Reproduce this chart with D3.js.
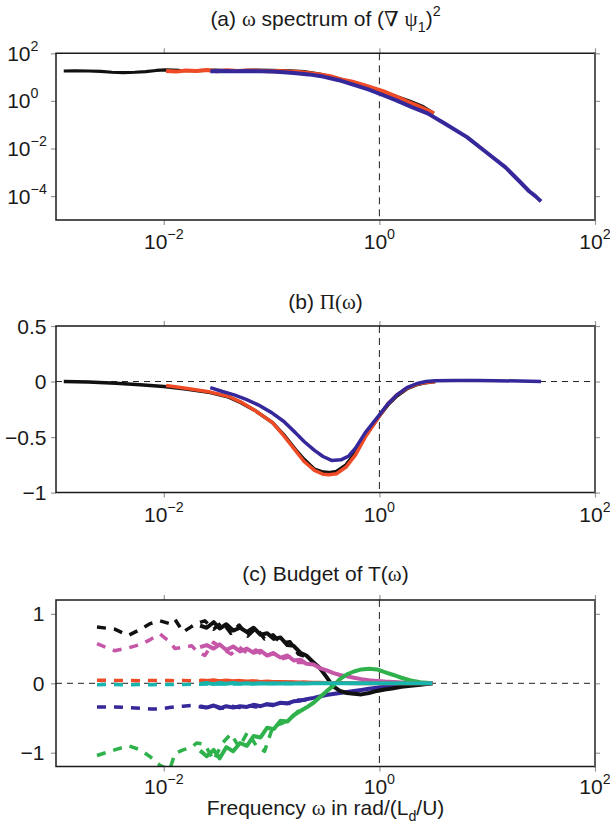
<!DOCTYPE html>
<html>
<head>
<meta charset="utf-8">
<script src="https://cdn.jsdelivr.net/npm/d3@7"></script>
<style>
  body { margin: 0; background: #fff; }
</style>
</head>
<body>
<div id="chart"></div>
<script>
// ---- data: panel (a), omega spectrum, log-log ----
var aBlackX = [0.00118, 0.0015, 0.002, 0.0026, 0.0033, 0.0042, 0.0054, 0.0068, 0.0085, 0.0105, 0.014, 0.02, 0.03, 0.045, 0.07, 0.1, 0.15, 0.2, 0.28, 0.42, 0.6, 1.0, 1.4, 1.9, 2.5, 3.2];
var aBlackY = [18, 18.5, 18, 17.5, 16, 15.5, 16, 17, 19, 20, 19, 18.5, 19.5, 18.5, 19.5, 19, 18.5, 17, 13.5, 8.7, 5.4, 2.6, 1.6, 1.0, 0.6, 0.3];
var aRedX = [0.0105, 0.013, 0.016, 0.02, 0.025, 0.031, 0.039, 0.048, 0.06, 0.075, 0.093, 0.115, 0.145, 0.18, 0.22, 0.28, 0.35, 0.44, 0.55, 0.7, 0.87, 1.1, 1.4, 1.8, 2.3, 3.2];
var aRedY = [18, 17, 19, 18, 20, 17.5, 19.5, 18, 19, 18.5, 17.5, 18, 17, 16.5, 15, 13, 11, 8, 6.6, 4.8, 3.5, 2.5, 1.6, 0.95, 0.6, 0.3];
var aBlueX = [0.027, 0.035, 0.045, 0.06, 0.08, 0.1, 0.13, 0.17, 0.22, 0.3, 0.42, 0.6, 0.8, 1.0, 1.4, 2.0, 2.8, 4, 6.5, 10, 14.8, 20, 24.5, 28, 31.6];
var aBlueY = [17.8, 18, 17.6, 18, 17.5, 17.2, 16, 14.5, 13, 10.5, 7.4, 4.5, 3, 2.0, 1.1, 0.55, 0.3, 0.115, 0.03, 0.0065, 0.0016, 0.00041, 0.00016, 0.0001, 0.00006];

// ---- data: panel (b), Pi(omega) ----
var bBlackX = [0.00118, 0.002, 0.0036, 0.006, 0.01, 0.016, 0.027, 0.04, 0.052, 0.07, 0.102, 0.13, 0.166, 0.2, 0.25, 0.3, 0.34, 0.4, 0.49, 0.6, 0.74, 1.0, 1.2, 1.45, 1.8, 2.2, 2.7, 3.3];
var bBlackY = [0, -0.005, -0.015, -0.028, -0.045, -0.068, -0.10, -0.14, -0.19, -0.26, -0.37, -0.48, -0.61, -0.70, -0.79, -0.815, -0.82, -0.81, -0.75, -0.64, -0.49, -0.31, -0.21, -0.13, -0.065, -0.03, -0.01, 0.0];
var bRedX = [0.0105, 0.016, 0.027, 0.04, 0.052, 0.07, 0.102, 0.13, 0.166, 0.2, 0.25, 0.3, 0.34, 0.4, 0.49, 0.6, 0.74, 1.0, 1.2, 1.45, 1.8, 2.2, 2.7, 3.3];
var bRedY = [-0.035, -0.06, -0.095, -0.135, -0.185, -0.26, -0.37, -0.49, -0.62, -0.72, -0.80, -0.835, -0.84, -0.83, -0.77, -0.66, -0.50, -0.31, -0.20, -0.12, -0.06, -0.025, -0.008, 0.0];
var bBlueX = [0.027, 0.035, 0.045, 0.058, 0.075, 0.1, 0.13, 0.166, 0.2, 0.25, 0.3, 0.36, 0.44, 0.52, 0.6, 0.74, 1.0, 1.2, 1.45, 1.8, 2.2, 2.7, 3.3, 5, 8, 12, 20, 31.6];
var bBlueY = [-0.055, -0.09, -0.12, -0.16, -0.21, -0.28, -0.36, -0.46, -0.54, -0.62, -0.675, -0.71, -0.705, -0.67, -0.60, -0.46, -0.30, -0.20, -0.12, -0.055, -0.02, 0.0, 0.008, 0.01, 0.01, 0.008, 0.004, 0.0];

// ---- data: panel (c), budget of T(omega) ----
var cDashX = [0.0024, 0.0035, 0.0047, 0.0061, 0.0075, 0.0092, 0.0113, 0.0127, 0.0151, 0.0182, 0.0202, 0.024, 0.029, 0.035, 0.042, 0.05, 0.06, 0.072, 0.086, 0.103, 0.123, 0.148, 0.177, 0.21];
var cBlackDash   = [0.81, 0.78, 0.69, 0.78, 0.86, 0.90, 0.86, 0.92, 0.74, 0.82, 0.86, 0.90, 0.78, 0.88, 0.72, 0.84, 0.68, 0.80, 0.64, 0.70, 0.58, 0.60, 0.42, 0.38];
var cMagentaDash = [0.57, 0.47, 0.51, 0.56, 0.63, 0.71, 0.60, 0.50, 0.52, 0.54, 0.46, 0.40, 0.59, 0.50, 0.42, 0.52, 0.43, 0.48, 0.38, 0.44, 0.35, 0.38, 0.30, 0.30];
var cRedDash     = [0.045, 0.04, 0.042, 0.038, 0.04, 0.043, 0.04, 0.038, 0.04, 0.036, 0.038, 0.035, 0.036, 0.03, 0.032, 0.028, 0.03, 0.025, 0.025, 0.02, 0.02, 0.016, 0.014, 0.012];
var cCyanDash    = [-0.02, -0.018, -0.02, -0.017, -0.02, -0.016, -0.018, -0.015, -0.016, -0.012, -0.014, -0.01, -0.012, -0.008, -0.01, -0.006, -0.008, -0.004, -0.005, -0.003, -0.003, -0.002, -0.001, 0];
var cBlueDash    = [-0.34, -0.34, -0.35, -0.36, -0.37, -0.37, -0.35, -0.34, -0.33, -0.32, -0.33, -0.35, -0.32, -0.36, -0.33, -0.35, -0.32, -0.34, -0.30, -0.32, -0.28, -0.29, -0.24, -0.24];
var cGreenDash   = [-1.04, -0.96, -0.90, -0.96, -1.06, -1.18, -1.25, -1.01, -0.96, -0.92, -0.86, -0.88, -1.11, -0.86, -0.73, -0.92, -0.70, -0.90, -0.98, -0.62, -0.58, -0.52, -0.40, -0.36];

var cSolidX = [0.0217, 0.025, 0.029, 0.033, 0.038, 0.044, 0.051, 0.059, 0.068, 0.079, 0.091, 0.105, 0.121, 0.14, 0.16, 0.185, 0.21, 0.245, 0.28, 0.32, 0.37, 0.43, 0.5, 0.58, 0.68, 0.8, 0.95, 1.12, 1.35, 1.6, 1.95, 2.4, 3.1];
var cBlackSolid   = [0.83, 0.80, 0.88, 0.79, 0.85, 0.76, 0.80, 0.74, 0.80, 0.70, 0.72, 0.64, 0.66, 0.55, 0.54, 0.44, 0.40, 0.30, 0.22, 0.10, -0.04, -0.11, -0.14, -0.15, -0.16, -0.14, -0.11, -0.09, -0.07, -0.05, -0.035, -0.02, 0];
var cMagentaSolid = [0.52, 0.55, 0.50, 0.56, 0.48, 0.53, 0.46, 0.50, 0.44, 0.47, 0.40, 0.43, 0.37, 0.40, 0.33, 0.34, 0.28, 0.27, 0.22, 0.19, 0.15, 0.12, 0.10, 0.08, 0.06, 0.045, 0.035, 0.025, 0.018, 0.012, 0.007, 0.003, 0];
var cGreenSolid   = [-0.97, -1.05, -0.96, -1.08, -0.92, -0.98, -0.86, -0.90, -0.76, -0.78, -0.64, -0.66, -0.54, -0.55, -0.46, -0.40, -0.35, -0.28, -0.20, -0.12, -0.04, 0.06, 0.13, 0.17, 0.20, 0.21, 0.20, 0.16, 0.12, 0.08, 0.04, 0.015, 0];
var cBlueSolid    = [-0.33, -0.35, -0.32, -0.36, -0.33, -0.35, -0.33, -0.34, -0.31, -0.33, -0.30, -0.31, -0.28, -0.29, -0.26, -0.25, -0.23, -0.21, -0.19, -0.17, -0.155, -0.14, -0.125, -0.11, -0.095, -0.08, -0.065, -0.05, -0.04, -0.03, -0.02, -0.01, 0];
var cRedSolid     = [0.04, 0.035, 0.045, 0.03, 0.04, 0.03, 0.035, 0.025, 0.03, 0.02, 0.025, 0.02, 0.02, 0.015, 0.015, 0.012, 0.01, 0.008, 0.007, 0.006, 0.005, 0.004, 0.003, 0.002, 0.002, 0.001, 0.001, 0, 0, 0, 0, 0, 0];
var cCyanSolid    = [-0.01, 0.005, -0.012, 0.004, -0.008, 0.003, -0.006, 0.002, -0.005, 0.002, -0.004, 0.001, -0.003, 0.001, -0.002, 0, -0.002, 0, -0.001, 0, 0, 0, 0, 0, 0, 0, 0, 0, 0, 0, 0, 0, 0];

// ---- ticks ----
var xTicks = [1e-2, 1e0, 1e2];
var xTickExp = ["\u22122", "0", "2"];
var aYTicks = [1e2, 1e0, 1e-2, 1e-4];
var aYTickExp = ["2", "0", "\u22122", "\u22124"];
var bYTicks = [0.5, 0, -0.5, -1];
var bYTickLabels = ["0.5", "0", "\u22120.5", "\u22121"];
var cYTicks = [1, 0, -1];
var cYTickLabels = ["1", "0", "\u22121"];

// colours
var BLACK = "#111111", RED = "#ef4b26", BLUE = "#35289a", MAGENTA = "#c656a8", GREEN = "#2fb14b", CYAN = "#17b5ae";
var FONT = "'Liberation Sans', Arial, Helvetica, sans-serif";
var GREEK = "'Liberation Serif', 'DejaVu Serif', serif";

var W = 610, H = 828, L = 56, R = 595, PH = 166.6;

var svg = d3.select("#chart").append("svg")
  .attr("width", W).attr("height", H)
  .style("font-family", FONT);

var x = d3.scaleLog().domain([1e-3, 1e2]).range([L, R]);

function zip(xs, ys) { return xs.map(function (v, i) { return [v, ys[i]]; }); }

// writes rich text made of segments {t, greek, sub, sup}
function richText(sel, segs, size) {
  var shift = 0;
  segs.forEach(function (s) {
    var ts = sel.append("tspan").text(s.t);
    var target = s.sub ? 6 : (s.sup ? -10 : 0);
    if (target !== shift) { ts.attr("dy", target - shift); shift = target; }
    if (s.sub || s.sup) ts.attr("font-size", size * 0.68);
    if (s.greek) ts.attr("font-family", GREEK);
  });
}

function makePanel(opt) {
  var top = opt.top, bottom = top + PH;
  var y = opt.y.range([bottom, top]);
  var g = svg.append("g");
  var id = "clip" + opt.name;

  g.append("clipPath").attr("id", id).append("rect")
    .attr("x", L).attr("y", top).attr("width", R - L).attr("height", PH);

  // reference lines
  g.append("line")
    .attr("x1", x(1)).attr("x2", x(1)).attr("y1", top).attr("y2", bottom)
    .attr("stroke", "#222").attr("stroke-width", 1).attr("stroke-dasharray", "7,5");
  if (opt.zeroLine) {
    g.append("line")
      .attr("x1", L).attr("x2", R).attr("y1", y(0)).attr("y2", y(0))
      .attr("stroke", "#222").attr("stroke-width", 1).attr("stroke-dasharray", "6,5");
  }

  // series
  var line = d3.line().x(function (d) { return x(d[0]); }).y(function (d) { return y(d[1]); });
  var dg = g.append("g").attr("clip-path", "url(#" + id + ")");
  opt.series.forEach(function (s) {
    dg.append("path")
      .attr("d", line(zip(s.x, s.y)))
      .attr("fill", "none")
      .attr("stroke", s.color)
      .attr("stroke-width", s.width || 3.5)
      .attr("stroke-linejoin", "round")
      .attr("stroke-dasharray", s.dash ? "9,8" : null);
  });

  // axes (ticks outside on all four sides)
  function styleAxis(a) {
    a.select(".domain").remove();
    a.selectAll(".tick line").attr("stroke", "#999").attr("stroke-width", 1.2);
  }
  g.append("g").attr("transform", "translate(0," + bottom + ")")
    .call(d3.axisBottom(x).tickValues(xTicks).tickSize(5).tickFormat("")).call(styleAxis);
  g.append("g").attr("transform", "translate(0," + top + ")")
    .call(d3.axisTop(x).tickValues(xTicks).tickSize(5).tickFormat("")).call(styleAxis);
  g.append("g").attr("transform", "translate(" + L + ",0)")
    .call(d3.axisLeft(y).tickValues(opt.yTicks).tickSize(5).tickFormat("")).call(styleAxis);
  g.append("g").attr("transform", "translate(" + R + ",0)")
    .call(d3.axisRight(y).tickValues(opt.yTicks).tickSize(5).tickFormat("")).call(styleAxis);

  // frame
  g.append("path").attr("d", "M" + R + "," + top + "H" + L + "V" + bottom + "H" + R)
    .attr("fill", "none").attr("stroke", "#1a1a1a").attr("stroke-width", 1.5);
  g.append("line").attr("x1", R).attr("x2", R).attr("y1", top - 1).attr("y2", bottom + 1)
    .attr("stroke", "#5a5a5a").attr("stroke-width", 2);

  // x tick labels: 10^n
  xTicks.forEach(function (v, i) {
    var t = g.append("text").attr("x", x(v)).attr("y", bottom + opt.xLabelGap)
      .attr("text-anchor", "middle").attr("font-size", 21).attr("fill", "#1a1a1a");
    richText(t, [{t: "10"}, {t: xTickExp[i], sup: true}], 21);
  });

  // y tick labels
  opt.yTicks.forEach(function (v, i) {
    if (opt.logY) {
      var t = g.append("text").attr("x", 7.2).attr("y", y(v) + 7.5)
        .attr("text-anchor", "start").attr("font-size", 21).attr("fill", "#1a1a1a");
      richText(t, [{t: "10"}, {t: opt.yLabels[i], sup: true}], 21);
    } else {
      g.append("text").attr("x", opt.yLabelX).attr("y", y(v) + 7.5)
        .attr("text-anchor", "end").attr("font-size", 21).attr("fill", "#1a1a1a")
        .text(opt.yLabels[i]);
    }
  });

  // title
  var tt = g.append("text").attr("x", (L + R) / 2).attr("y", opt.titleY)
    .attr("text-anchor", "middle").attr("font-size", 21).attr("fill", "#1a1a1a");
  richText(tt, opt.title, 21);
}

makePanel({
  name: "a", top: 53.3, y: d3.scaleLog().domain([1e-5, 1e2]), logY: true,
  yTicks: aYTicks, yLabels: aYTickExp, titleY: 26, xLabelGap: 29,
  title: [{t: "(a) "}, {t: "\u03c9", greek: true}, {t: " spectrum of ("}, {t: "\u2207", greek: true},
          {t: " "}, {t: "\u03c8", greek: true}, {t: "1", sub: true}, {t: ")"}, {t: "2", sup: true}],
  series: [
    {x: aBlackX, y: aBlackY, color: BLACK, width: 3.2},
    {x: aRedX, y: aRedY, color: RED, width: 4},
    {x: aBlueX, y: aBlueY, color: BLUE, width: 4}
  ]
});

makePanel({
  name: "b", top: 326, y: d3.scaleLinear().domain([-1, 0.5]), zeroLine: true,
  yTicks: bYTicks, yLabels: bYTickLabels, yLabelX: 46.5, titleY: 309, xLabelGap: 29,
  title: [{t: "(b) "}, {t: "\u03a0(\u03c9", greek: true}, {t: ")"}],
  series: [
    {x: bBlackX, y: bBlackY, color: BLACK, width: 3.5},
    {x: bRedX, y: bRedY, color: RED, width: 3.5},
    {x: bBlueX, y: bBlueY, color: BLUE, width: 3.5}
  ]
});

makePanel({
  name: "c", top: 600, y: d3.scaleLinear().domain([-1.2, 1.2]), zeroLine: true,
  yTicks: cYTicks, yLabels: cYTickLabels, yLabelX: 44.5, titleY: 580.5, xLabelGap: 27,
  title: [{t: "(c) Budget of T("}, {t: "\u03c9", greek: true}, {t: ")"}],
  series: [
    {x: cDashX, y: cBlueDash, color: BLUE, dash: true},
    {x: cDashX, y: cBlackDash, color: BLACK, dash: true},
    {x: cDashX, y: cMagentaDash, color: MAGENTA, dash: true},
    {x: cDashX, y: cGreenDash, color: GREEN, dash: true},
    {x: cDashX, y: cRedDash, color: RED, dash: true},
    {x: cDashX, y: cCyanDash, color: CYAN, dash: true},
    {x: cSolidX, y: cBlueSolid, color: BLUE, width: 4},
    {x: cSolidX, y: cBlackSolid, color: BLACK, width: 4},
    {x: cSolidX, y: cMagentaSolid, color: MAGENTA, width: 4},
    {x: cSolidX, y: cGreenSolid, color: GREEN, width: 4},
    {x: cSolidX, y: cRedSolid, color: RED, width: 4},
    {x: cSolidX, y: cCyanSolid, color: CYAN, width: 4}
  ]
});

// x-axis label
var xl = svg.append("text").attr("x", (L + R) / 2).attr("y", 815)
  .attr("text-anchor", "middle").attr("font-size", 21).attr("fill", "#1a1a1a");
richText(xl, [{t: "Frequency "}, {t: "\u03c9", greek: true}, {t: " in rad/(L"}, {t: "d", sub: true}, {t: "/U)"}], 21);
</script>
</body>
</html>
